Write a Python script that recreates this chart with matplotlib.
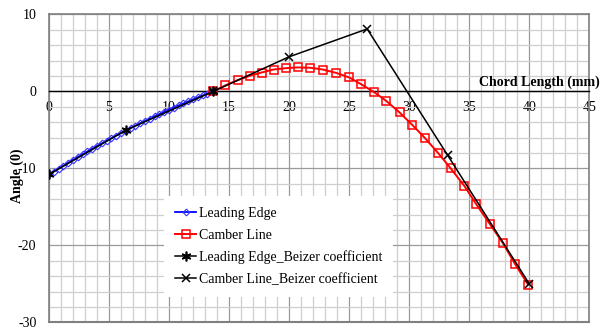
import matplotlib.pyplot as plt
from matplotlib.ticker import MultipleLocator

plt.rcParams['font.family'] = ['Liberation Serif', 'DejaVu Serif']

# Leading edge (blue diamonds)
LE_X = [0.0, 0.4, 0.8, 1.2, 1.6, 2.0, 2.4, 2.8, 3.2, 3.6, 4.0, 4.4, 4.8, 5.2,
        5.6, 6.0, 6.4, 6.8, 7.2, 7.6, 8.0, 8.4, 8.8, 9.2, 9.6, 10.0, 10.4,
        10.8, 11.2, 11.6, 12.0, 12.4, 12.8, 13.2, 13.7]
LE_Y = [-10.8, -10.42, -10.04, -9.66, -9.28, -8.9, -8.53, -8.17, -7.81, -7.45,
        -7.1, -6.76, -6.42, -6.09, -5.75, -5.42, -5.1, -4.78, -4.47, -4.15,
        -3.85, -3.55, -3.25, -2.96, -2.67, -2.39, -2.11, -1.84, -1.57, -1.31,
        -1.05, -0.79, -0.54, -0.3, 0.0]

# Camber line (red squares)
CL_X = [13.7, 14.7, 15.7, 16.7, 17.7, 18.7, 19.7, 20.7, 21.75, 22.8, 23.9,
        25.0, 26.0, 27.1, 28.1, 29.2, 30.25, 31.3, 32.4, 33.45, 34.6, 35.6,
        36.7, 37.8, 38.8, 39.9]
CL_Y = [0.0, 0.78, 1.44, 2.0, 2.44, 2.83, 3.0, 3.1, 3.06, 2.83, 2.4, 1.8, 0.92,
        -0.13, -1.26, -2.75, -4.35, -6.05, -8.0, -10.0, -12.3, -14.7, -17.2,
        -19.7, -22.4, -25.1]

# Bezier control points
LE_BZ_X = [0.0, 6.4, 13.7]
LE_BZ_Y = [-10.8, -5.05, 0.0]
CL_BZ_X = [13.7, 19.95, 26.5, 33.2, 40.0]
CL_BZ_Y = [0.0, 4.45, 8.1, -8.3, -25.0]

X_TICKS = [0, 5, 10, 15, 20, 25, 30, 35, 40, 45]
Y_TICKS = [10, 0, -10, -20, -30]

W, H = 611, 329
fig = plt.figure(figsize=(W / 100, H / 100), dpi=100)
ax = fig.add_axes([49 / W, 1 - 322.3 / H, 540.3 / W, 308 / H])

ax.plot(LE_X, LE_Y, color='#0000ff', lw=1.3, marker='D', ms=3.4,
        mfc='none', mec='#3333ff', mew=0.8, label='Leading Edge', zorder=3)
ax.plot(CL_X, CL_Y, color='#ff0000', lw=1.4, marker='s', ms=5.8,
        mfc='none', mec='#ff0000', mew=1.1, label='Camber Line', zorder=3)
ax.plot(LE_BZ_X, LE_BZ_Y, color='black', lw=1.1, marker=(6, 2, 0), ms=7,
        mew=1.2, label='Leading Edge_Beizer coefficient', zorder=4)
ax.plot(CL_BZ_X, CL_BZ_Y, color='black', lw=1.1, marker='x', ms=6,
        mew=1.1, label='Camber Line_Beizer coefficient', zorder=4)

ax.set_xlim(0, 45)
ax.set_ylim(-30, 10)

# Set the chart layout
ax.xaxis.set_major_locator(MultipleLocator(5))
ax.xaxis.set_minor_locator(MultipleLocator(1))
ax.yaxis.set_major_locator(MultipleLocator(10))
ax.yaxis.set_minor_locator(MultipleLocator(2))
ax.grid(True, which='major', color='#9a9a9a', lw=0.9, zorder=0)
ax.grid(True, which='minor', color='#cfcfcf', lw=0.9, zorder=0)
ax.set_axisbelow(True)

# x axis crosses at y = 0
ax.spines['bottom'].set_position(('data', 0))
ax.spines['bottom'].set_color('black')
ax.spines['bottom'].set_linewidth(1.0)
for s in ['top', 'left', 'right']:
    ax.spines[s].set_color('#808080')
    ax.spines[s].set_linewidth(1.2)
ax.axhline(-30, color='#808080', lw=1.5, clip_on=False, zorder=5)

ax.set_xticks(X_TICKS)
ax.set_xticklabels([str(v) for v in X_TICKS])
ax.set_yticks(Y_TICKS)
ax.set_yticklabels([str(v) for v in Y_TICKS])
ax.tick_params(which='both', length=0)
ax.tick_params(axis='x', pad=7, labelsize=10)
ax.tick_params(axis='y', pad=9, labelsize=10)

ax.text(45.9, 1.15, 'Chord Length (mm)', ha='right', va='center',
        fontsize=10, fontweight='bold')
fig.text(17 / W, 1 - 176 / H, 'Angle (0)', rotation=90, ha='center',
         va='center', fontsize=10, fontweight='bold')

leg = ax.legend(loc='upper left', bbox_to_anchor=(164 / W, 1 - 196 / H),
                bbox_transform=fig.transFigure, fontsize=10, frameon=True,
                fancybox=False, edgecolor='none', facecolor='white',
                framealpha=1, borderaxespad=0, handlelength=1.5,
                handletextpad=0.2, labelspacing=0.62, borderpad=0.8)
leg.set_zorder(6)

plt.savefig('out.png', dpi=100)
